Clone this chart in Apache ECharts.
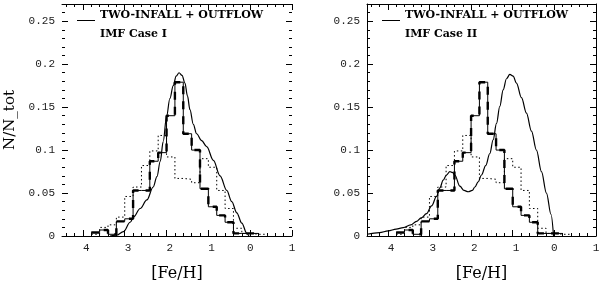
<!DOCTYPE html>
<html><head><meta charset="utf-8">
<script src="https://cdn.jsdelivr.net/npm/echarts@6/dist/echarts.min.js"></script>
<style>html,body{margin:0;padding:0;background:#fff}#c{width:600px;height:281px}</style>
</head><body><div id="c"></div>
<script>
// ---- data ----
const xTicks = [-4, -3, -2, -1, 0, 1];
const yTicks = [0, 0.05, 0.1, 0.15, 0.2, 0.25];
const binWidth = 0.2;
const binLeft = [-3.8,-3.6,-3.4,-3.2,-3.0,-2.8,-2.6,-2.4,-2.2,-2.0,-1.8,-1.6,-1.4,-1.2,-1.0,-0.8,-0.6,-0.4,-0.2,0.0,0.2];
const obsThick = [0.004,0.007,0.002,0.017,0.02,0.053,0.053,0.087,0.097,0.14,0.179,0.119,0.1,0.055,0.034,0.024,0.016,0.003,0.003,0.003,null];
const obsDotted = [0.002,0.01,0.013,0.022,0.046,0.057,0.082,0.099,0.117,0.092,0.067,0.066,0.062,0.09,0.08,0.053,0.032,0.009,0.003,0.002,0.002];
const modelX_I = [-3.35,-3.2,-3.03,-2.87,-2.79,-2.63,-2.47,-2.32,-2.23,-2.15,-2.08,-2.0,-1.92,-1.84,-1.77,-1.70,-1.63,-1.56,-1.5,-1.44,-1.36,-1.28,-1.16,-1.04,-0.88,-0.72,-0.56,-0.44,-0.32,-0.2,-0.08,-0.03];
const modelY_I = [0.0,0.001,0.005,0.016,0.022,0.032,0.042,0.057,0.069,0.087,0.11,0.139,0.16,0.175,0.186,0.19,0.187,0.178,0.163,0.147,0.13,0.119,0.111,0.104,0.088,0.07,0.053,0.04,0.027,0.015,0.003,0.0];
const modelX_II = [-4.5,-4.2,-3.99,-3.8,-3.63,-3.45,-3.31,-3.2,-3.07,-2.95,-2.83,-2.75,-2.67,-2.59,-2.51,-2.45,-2.39,-2.27,-2.17,-2.07,-1.97,-1.91,-1.83,-1.75,-1.65,-1.55,-1.47,-1.39,-1.31,-1.23,-1.15,-1.07,-0.99,-0.91,-0.79,-0.67,-0.55,-0.43,-0.31,-0.19,-0.08,-0.02];
const modelY_II = [0.002,0.004,0.006,0.008,0.0097,0.013,0.017,0.021,0.026,0.035,0.046,0.056,0.065,0.071,0.075,0.074,0.071,0.058,0.053,0.0515,0.053,0.057,0.063,0.071,0.082,0.096,0.112,0.131,0.151,0.17,0.183,0.188,0.186,0.178,0.161,0.143,0.122,0.1,0.075,0.05,0.025,0.0];
const panelTitles = ['IMF Case I', 'IMF Case II'];
const legendName = 'TWO-INFALL + OUTFLOW';
const xName = '[Fe/H]';
const yName = 'N/N_tot';

// ---- helpers ----
function minorList(lo, hi, step, majors) {
  const out = [];
  for (let i = Math.round(lo / step); i * step <= hi + 1e-9; i++) {
    const v = +(i * step).toFixed(4);
    if (!majors.some(m => Math.abs(m - v) < 1e-9)) out.push(v);
  }
  return out;
}
const xMinor = minorList(-4.4, 1.0, 0.2, xTicks);
const yMinor = minorList(0.01, 0.26, 0.01, yTicks);

function stepData(vals) {
  const pts = [];
  let last = null;
  binLeft.forEach((x, i) => { if (vals[i] != null) { pts.push([x, vals[i]]); last = [x, vals[i]]; } });
  pts.push([+(last[0] + binWidth).toFixed(4), last[1]]);
  return pts;
}
const zip = (a, b) => a.map((v, i) => [v, b[i]]);
// the reference's minus signs are invisible; keep their room so digits sit where they do there
const xLabel = v => (v < 0 ? '\u2007' : '') + String(Math.abs(v));

const BLACK = '#000';
const tickFont = { color: '#222', fontFamily: 'Liberation Mono', fontSize: 11 };
const lineIcon = 'path://M0,0 L0.02,0 L0.02,0.02 Z M0,10 L18,10 L18,11 L0,11 Z';

const xAxes = [], yAxes = [], series = [], grids = [], legends = [], titles = [];
const panels = [
  { left: 62, width: 230, vlines: false, mx: modelX_I, my: modelY_I, yname: true, legLeft: 77, titleLeft: 100 },
  { left: 367, width: 229, vlines: true, mx: modelX_II, my: modelY_II, yname: false, legLeft: 382, titleLeft: 405 }
];
panels.forEach((p, gi) => {
  grids.push({ left: p.left, top: 4, width: p.width, height: 232, containLabel: false, outerBoundsMode: 'none' });
  const xb = xAxes.length;
  const common = { gridIndex: gi, type: 'value', min: -4.5, max: 1, splitLine: { show: false } };
  const lineOn = { show: true, onZero: false, lineStyle: { color: BLACK, width: 1 } };
  const lineOff = { show: false, onZero: false };
  xAxes.push(Object.assign({}, common, {
    position: 'bottom', axisLine: lineOn,
    axisTick: { show: true, inside: true, length: 6, customValues: xTicks, lineStyle: { color: BLACK } },
    axisLabel: Object.assign({ show: true, customValues: xTicks, margin: 7, formatter: xLabel }, tickFont),
    name: xName, nameLocation: 'middle', nameGap: 30,
    nameTextStyle: { fontFamily: 'DejaVu Serif', fontSize: 16, color: BLACK }
  }));
  xAxes.push(Object.assign({}, common, {
    position: 'bottom', axisLine: lineOff,
    axisTick: { show: true, inside: true, length: 3, customValues: xMinor, lineStyle: { color: BLACK } },
    axisLabel: { show: false }
  }));
  xAxes.push(Object.assign({}, common, {
    position: 'top', axisLine: lineOn,
    axisTick: { show: true, inside: true, length: 6, customValues: xTicks, lineStyle: { color: BLACK } },
    axisLabel: { show: false }
  }));
  xAxes.push(Object.assign({}, common, {
    position: 'top', axisLine: lineOff,
    axisTick: { show: true, inside: true, length: 3, customValues: xMinor, lineStyle: { color: BLACK } },
    axisLabel: { show: false }
  }));
  const yb = yAxes.length;
  const ycommon = { gridIndex: gi, type: 'value', min: 0, max: 0.27, splitLine: { show: false } };
  const vline = p.vlines ? lineOn : lineOff;
  yAxes.push(Object.assign({}, ycommon, {
    position: 'left', axisLine: vline,
    axisTick: { show: true, inside: true, length: 6, customValues: yTicks, lineStyle: { color: BLACK } },
    axisLabel: Object.assign({ show: true, customValues: yTicks, margin: 7 }, tickFont),
    name: p.yname ? yName : '', nameLocation: 'middle', nameGap: 44, nameRotate: 90,
    nameTextStyle: { fontFamily: 'DejaVu Serif', fontSize: 15, color: BLACK }
  }));
  yAxes.push(Object.assign({}, ycommon, {
    position: 'left', axisLine: lineOff,
    axisTick: { show: true, inside: true, length: 3, customValues: yMinor, lineStyle: { color: BLACK } },
    axisLabel: { show: false }
  }));
  yAxes.push(Object.assign({}, ycommon, {
    position: 'right', axisLine: vline,
    axisTick: { show: true, inside: true, length: 6, customValues: yTicks, lineStyle: { color: BLACK } },
    axisLabel: { show: false }
  }));
  yAxes.push(Object.assign({}, ycommon, {
    position: 'right', axisLine: lineOff,
    axisTick: { show: true, inside: true, length: 3, customValues: yMinor, lineStyle: { color: BLACK } },
    axisLabel: { show: false }
  }));

  const base = { xAxisIndex: xb, yAxisIndex: yb, type: 'line', symbol: 'none', silent: true, clip: true };
  series.push(Object.assign({}, base, {
    name: 'obs dotted', step: 'end', data: stepData(obsDotted),
    lineStyle: { color: BLACK, width: 1, type: [1.5, 2.5] }
  }));
  series.push(Object.assign({}, base, {
    name: 'obs', step: 'end', data: stepData(obsThick),
    lineStyle: { color: BLACK, width: 1 }
  }));
  series.push(Object.assign({}, base, {
    name: 'obs thick', step: 'end', data: stepData(obsThick),
    lineStyle: { color: BLACK, width: 2.4, type: [8, 7] }
  }));
  series.push(Object.assign({}, base, {
    name: legendName, smooth: 0.35, smoothMonotone: 'x', data: zip(p.mx, p.my),
    lineStyle: { color: BLACK, width: 1.2 }, itemStyle: { color: BLACK }
  }));

  legends.push({
    data: [{ name: legendName, icon: lineIcon }], left: p.legLeft, top: 10, padding: 0,
    itemWidth: 18, itemHeight: 11, selectedMode: false,
    itemStyle: { color: BLACK, borderWidth: 0 },
    textStyle: { fontFamily: 'DejaVu Serif', fontWeight: 'bold', fontSize: 11, color: BLACK }
  });
  titles.push({
    text: panelTitles[gi], left: p.titleLeft, top: 29, padding: 0,
    textStyle: { fontFamily: 'DejaVu Serif', fontWeight: 'bold', fontSize: 11, color: BLACK }
  });
});

const chart = echarts.init(document.getElementById('c'), null, { renderer: 'canvas' });
chart.setOption({
  backgroundColor: '#fff',
  animation: false,
  title: titles,
  legend: legends,
  grid: grids,
  xAxis: xAxes,
  yAxis: yAxes,
  series: series
});
</script>
</body></html>
